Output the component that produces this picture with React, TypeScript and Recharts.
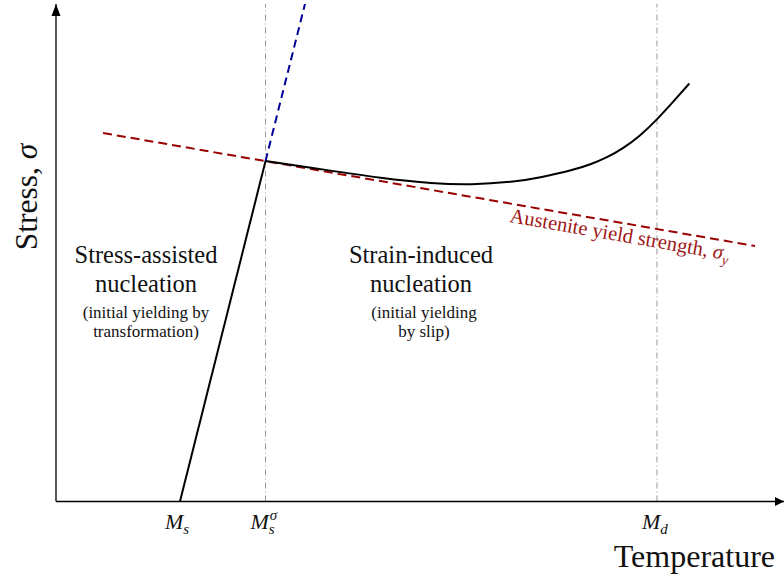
import { ComposedChart, Line, XAxis, YAxis, ReferenceLine, ReferenceDot, Customized } from "recharts"

const SERIF = "'Liberation Serif', 'Times New Roman', Times, 'DejaVu Serif', serif"

// x positions of the characteristic temperatures (arbitrary units 0..100)
const xMs = 17.03
const xMsSigma = 28.78
const xMd = 82.55
const tickValues = [xMs, xMsSigma, xMd]
const tickMain = ["M", "M", "M"]
const tickSub = ["s", "s", "d"]
const tickSup = ["", "σ", ""]

// stress-assisted branch (solid) and its extension (blue dashed)
const slipX = [17.03, 28.78]
const slipY = [0, 68.1]
const extX = [28.78, 34.2]
const extY = [68.1, 99.5]

// austenite yield strength (red dashed)
const yieldX = [6.46, 96.02]
const yieldY = [73.7, 51.1]

// strain-induced curve
const curveX = [28.8, 35.8, 45.0, 51.8, 56.9, 63.3, 66.5, 71.1, 73.4, 75.7, 77.9, 80.2, 82.5, 84.8, 87.0]
const curveY = [68.1, 66.6, 64.6, 63.6, 63.3, 64.0, 64.8, 66.3, 67.4, 68.8, 70.6, 73.1, 76.3, 80.0, 83.6]

const toPts = (xs: number[], ys: number[]) => xs.map((x, i) => ({ x, y: ys[i] }))

const txt = (size: number, extra: any = {}) => ({
  fontFamily: SERIF,
  fontSize: size,
  fontStyle: "normal",
  fill: "#111",
  ...extra,
})

function MTick(props: any) {
  const { x, y, payload } = props
  const i = tickValues.indexOf(payload.value)
  if (i < 0) return null
  const base = y + 19
  return (
    <text x={x - 15} y={base} style={txt(22, { fontStyle: "italic" })}>
      {tickMain[i]}
      <tspan dy={5} style={{ fontSize: 15 }}>{tickSub[i]}</tspan>
      {tickSup[i] && (
        <tspan dx={-5} dy={-14} style={{ fontSize: 15 }}>{tickSup[i]}</tspan>
      )}
    </text>
  )
}

function Annotations() {
  return (
    <g>
      <text x={37} y={197} textAnchor="middle" transform="rotate(-90 37 197)" style={txt(31.5)}>
        Stress, <tspan style={{ fontStyle: "italic" }}>σ</tspan>
      </text>
      <text x={775} y={567} textAnchor="end" style={txt(32)}>Temperature</text>

      <text x={146} y={263} textAnchor="middle" style={txt(24.5)}>Stress-assisted</text>
      <text x={146} y={292} textAnchor="middle" style={txt(24.5)}>nucleation</text>
      <text x={146} y={317.5} textAnchor="middle" style={txt(17)}>(initial yielding by</text>
      <text x={146} y={336.5} textAnchor="middle" style={txt(17)}>transformation)</text>

      <text x={421} y={263} textAnchor="middle" style={txt(24.5)}>Strain-induced</text>
      <text x={421} y={292} textAnchor="middle" style={txt(24.5)}>nucleation</text>
      <text x={424} y={317.5} textAnchor="middle" style={txt(17)}>(initial yielding</text>
      <text x={424} y={336.5} textAnchor="middle" style={txt(17)}>by slip)</text>
    </g>
  )
}

export default function App() {
  return (
    <div style={{ position: "absolute", left: 0, top: 0, background: "#fff" }}>
      <ComposedChart width={784} height={578} margin={{ top: 4, right: 0, left: 56, bottom: 46.5 }}>
        <XAxis
          dataKey="x"
          type="number"
          domain={[0, 100]}
          ticks={tickValues}
          tick={<MTick />}
          tickLine={false}
          axisLine={{ stroke: "#000", strokeWidth: 1.3 }}
          height={30}
          allowDataOverflow
        />
        <YAxis type="number" domain={[0, 99.5]} hide allowDataOverflow />

        <ReferenceLine x={0} stroke="#000" strokeWidth={1.3} />
        <ReferenceLine x={xMsSigma} stroke="#999" strokeWidth={1} strokeDasharray="6 3 1 3" />
        <ReferenceLine x={xMd} stroke="#999" strokeWidth={1} strokeDasharray="6 3 1 3" />

        <ReferenceDot
          x={0}
          y={99.5}
          ifOverflow="visible"
          shape={({ cx, cy }: any) => <path d={`M${cx},${cy} L${cx - 4.5},${cy + 12} L${cx + 4.5},${cy + 12} Z`} fill="#000" />}
        />
        <ReferenceDot
          x={100}
          y={0}
          ifOverflow="visible"
          shape={({ cx, cy }: any) => <path d={`M${cx},${cy} L${cx - 9},${cy - 4.5} L${cx - 9},${cy + 4.5} Z`} fill="#000" />}
        />

        <Line data={toPts(yieldX, yieldY)} dataKey="y" type="linear" stroke="#990000" strokeWidth={2} strokeDasharray="9 5" dot={false} isAnimationActive={false} />
        <Line data={toPts(extX, extY)} dataKey="y" type="linear" stroke="#000099" strokeWidth={2} strokeDasharray="8 5" dot={false} isAnimationActive={false} />
        <Line data={toPts(slipX, slipY)} dataKey="y" type="linear" stroke="#000" strokeWidth={2} dot={false} isAnimationActive={false} />
        <Line data={toPts(curveX, curveY)} dataKey="y" type="basis" stroke="#000" strokeWidth={2} dot={false} isAnimationActive={false} />

        <ReferenceDot
          x={62.23}
          y={55.9}
          ifOverflow="visible"
          shape={({ cx, cy }: any) => (
            <text x={cx} y={cy} transform={`rotate(9.9 ${cx} ${cy})`} style={txt(20.5, { fill: "#a01818" })}>
              Austenite yield strength, <tspan style={{ fontStyle: "italic" }}>σ</tspan>
              <tspan dy={5} style={{ fontStyle: "italic", fontSize: 14 }}>y</tspan>
            </text>
          )}
        />

        <Customized component={Annotations} />
      </ComposedChart>
    </div>
  )
}
